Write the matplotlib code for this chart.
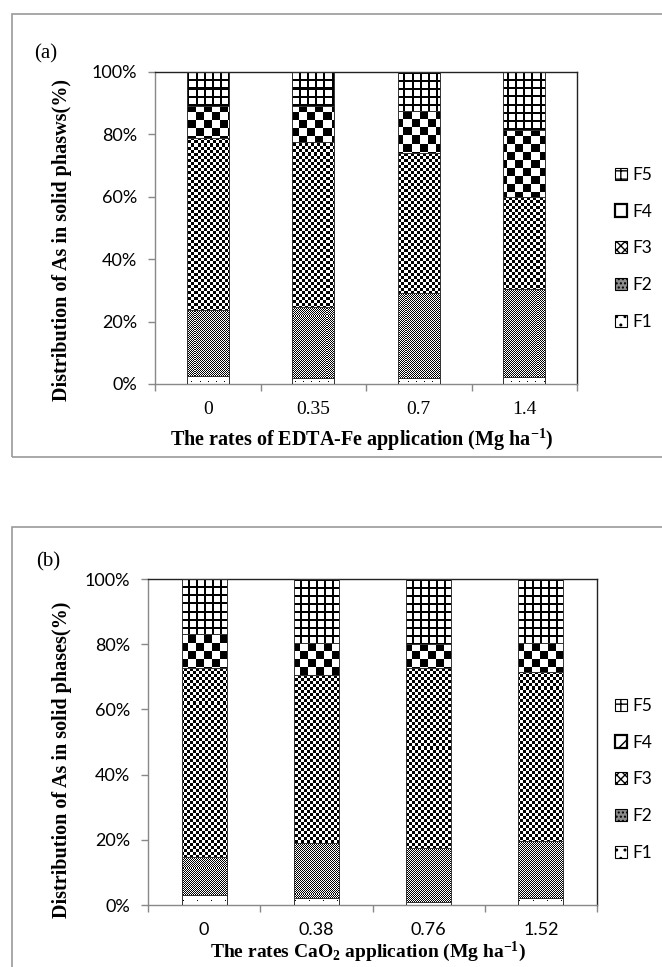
import numpy as np
import matplotlib
matplotlib.use('Agg')
import matplotlib.pyplot as plt
from matplotlib.patches import Rectangle, Patch

# data: share of each As fraction (%) per application rate
rates_a = ['0', '0.35', '0.7', '1.4']
a_F1 = [2.6, 2.0, 2.0, 2.3]
a_F2 = [21.1, 22.8, 27.1, 28.0]
a_F3 = [55.3, 52.9, 44.8, 29.7]
a_F4 = [10.1, 11.4, 13.7, 21.4]
a_F5 = [10.9, 10.9, 12.4, 18.6]

rates_b = ['0', '0.38', '0.76', '1.52']
b_F1 = [3.1, 2.0, 1.0, 2.3]
b_F2 = [11.7, 17.1, 16.4, 17.4]
b_F3 = [58.0, 51.5, 55.4, 51.9]
b_F4 = [10.3, 9.8, 7.4, 8.8]
b_F5 = [16.9, 19.6, 19.8, 19.6]

fractions = ['F1', 'F2', 'F3', 'F4', 'F5']

plt.rcParams['mathtext.fontset'] = 'custom'
plt.rcParams['mathtext.rm'] = 'Liberation Serif:bold'
plt.rcParams['mathtext.it'] = 'Liberation Serif:bold'
plt.rcParams['mathtext.bf'] = 'Liberation Serif:bold'

W, H = 662, 967
fig = plt.figure(figsize=(W / 100, H / 100), dpi=100)

sans = 'Lato'
serif = 'Liberation Serif'


def texture(kind, h, w, dot_step=8):
    # pixel patterns that stand in for the Excel fill patterns
    yy, xx = np.mgrid[0:h, 0:w]
    if kind == 'F1':
        black = (xx % dot_step == dot_step // 2) & (yy % 6 == 3)
    elif kind == 'F2':
        black = (xx + yy) % 2 == 0
    elif kind == 'F3':
        black = ((xx // 3) + (yy // 3)) % 2 == 0
    elif kind == 'F4':
        black = ((xx // 8) + (yy // 8)) % 2 == 0
    else:
        black = (xx % 8 < 2) | (yy % 8 < 2)
    img = np.where(black, 0.0, 1.0)
    return img


def panel(rect, cats, series, dot_step):
    ax = fig.add_axes(rect)
    x = np.arange(len(cats))
    wpx = int(round(rect[2] * W))
    hpx = int(round(rect[3] * H))
    bottom = np.zeros(len(cats))
    for name, vals in zip(fractions, series):
        bars = ax.bar(x, vals, width=0.4, bottom=bottom, facecolor='none',
                      edgecolor='#333333', linewidth=0.7, zorder=3)
        tex = texture(name, hpx, wpx, dot_step)
        for b in bars:
            im = ax.imshow(tex, cmap='gray', vmin=0, vmax=1, extent=(-0.5, len(cats) - 0.5, 0, 100),
                           aspect='auto', interpolation='nearest', zorder=2)
            im.set_clip_path(b)
        bottom = bottom + np.array(vals)
    ax.set_xlim(-0.5, len(cats) - 0.5)
    ax.set_ylim(0, 100)
    ax.set_yticks(np.arange(0, 101, 20))
    ax.set_yticklabels(['%d%%' % v for v in range(0, 101, 20)], fontfamily=sans, fontsize=13)
    ax.set_xticks(x)
    ax.set_xticks(np.arange(-0.5, len(cats), 1), minor=True)
    ax.tick_params(axis='x', which='major', length=0, pad=12)
    ax.tick_params(axis='x', which='minor', length=5, color='#888888', width=1)
    ax.tick_params(axis='y', length=5, color='#888888', width=1, pad=8)
    for s in ['left', 'bottom']:
        ax.spines[s].set_color('#888888')
    for s in ['top', 'right']:
        ax.spines[s].set_color('#222222')
    for s in ax.spines.values():
        s.set_linewidth(1)
    return ax


def legend(y_top, handles):
    fig.legend(handles=handles[::-1], labels=fractions[::-1], loc='upper left',
               bbox_to_anchor=(606 / W, 1 - y_top / H), frameon=False,
               prop={'family': sans, 'size': 12.5}, handlelength=0.7, handleheight=0.7,
               handletextpad=0.3, labelspacing=1.2, borderpad=0)


def handles(f4_hatch):
    return [Patch(facecolor='white', edgecolor='black', hatch='..', lw=0.8),
            Patch(facecolor='0.55', edgecolor='black', hatch='....', lw=0.8),
            Patch(facecolor='white', edgecolor='black', hatch='xxxx', lw=0.8),
            Patch(facecolor='white', edgecolor='black', hatch=f4_hatch, lw=1.6),
            Patch(facecolor='white', edgecolor='black', hatch='++', lw=0.8)]


# panel frames
fig.add_artist(Rectangle((12 / W, 1 - 457 / H), 700 / W, 443 / H, transform=fig.transFigure,
                         fill=False, edgecolor='#999999', lw=1.2))
fig.add_artist(Rectangle((12 / W, 1 - 1000 / H), 700 / W, 473 / H, transform=fig.transFigure,
                         fill=False, edgecolor='#999999', lw=1.2))

# (a)
ax1 = panel([155 / W, 1 - 384 / H, 422 / W, 312 / H], rates_a,
            [a_F1, a_F2, a_F3, a_F4, a_F5], 8)
ax1.set_xticklabels(rates_a, fontfamily=serif, fontsize=14)
ax1.set_ylabel('Distribution of As in solid phasws(%)', fontfamily=serif,
               fontweight='bold', fontsize=14.5)
ax1.yaxis.set_label_coords((72 - 155) / 422, 0.46)
ax1.set_xlabel('The rates of EDTA-Fe application (Mg ha$^{-1}$)', fontfamily=serif,
               fontweight='bold', fontsize=14.5)
ax1.xaxis.set_label_coords(0.49, -(427 - 384) / 312)
fig.text(46 / W, 1 - 54 / H, '(a)', fontfamily=serif, fontsize=15, ha='center', va='center')
legend(158, handles(None))

# (b)
ax2 = panel([148 / W, 1 - 905 / H, 449 / W, 326 / H], rates_b,
            [b_F1, b_F2, b_F3, b_F4, b_F5], 14)
ax2.set_xticklabels(rates_b, fontfamily=sans, fontsize=13)
ax2.set_ylabel('Distribution of As in solid phases(%)', fontfamily=serif,
               fontweight='bold', fontsize=14.5)
ax2.yaxis.set_label_coords((72 - 148) / 449, 0.445)
ax2.set_xlabel('The rates CaO$_2$ application (Mg ha$^{-1}$)', fontfamily=serif,
               fontweight='bold', fontsize=14)
ax2.xaxis.set_label_coords(0.49, -(940 - 905) / 326)
fig.text(48 / W, 1 - 562 / H, '(b)', fontfamily=serif, fontsize=15, ha='center', va='center')
legend(689, handles('//'))

plt.savefig('out.png', dpi=100)
